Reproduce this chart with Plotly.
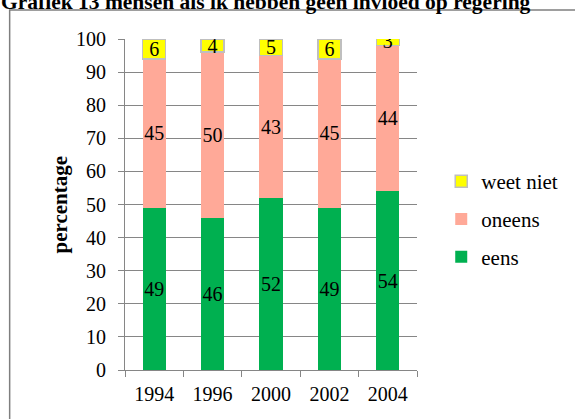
import plotly.graph_objects as go

years = ['1994', '1996', '2000', '2002', '2004']
eens = [49, 46, 52, 49, 54]
oneens = [45, 50, 43, 45, 44]
weetNiet = [6, 4, 5, 6, 3]

serif = 'Liberation Serif'
grey = '#868686'
labelFont = dict(color='black', size=20, family=serif)

fig = go.Figure()
# eens (onderste deel)
fig.add_trace(go.Bar(x=years, y=eens, name='eens', legendgroup='a', legendrank=3,
                     marker=dict(color='#00B050', line=dict(width=0)),
                     text=eens, textposition='inside', insidetextanchor='middle', textangle=0,
                     constraintext='none', textfont=labelFont))
# oneens
fig.add_trace(go.Bar(x=years, y=oneens, name='oneens', legendgroup='b', legendrank=2,
                     marker=dict(color='#FFA998', line=dict(width=0)),
                     text=oneens, textposition='inside', insidetextanchor='middle', textangle=0,
                     constraintext='none', textfont=labelFont))
# weet niet
fig.add_trace(go.Bar(x=years, y=weetNiet, name='weet niet', legendgroup='c', legendrank=1,
                     marker=dict(color='#FFFF00', line=dict(color='#BFBFBF', width=1.5)),
                     text=weetNiet, textposition='inside', insidetextanchor='middle', textangle=0,
                     constraintext='none', textfont=labelFont))

fig.update_layout(
    width=575, height=419,
    margin=dict(l=125, r=154, t=39, b=49),
    barmode='stack', bargap=0.605,
    plot_bgcolor='white', paper_bgcolor='white',
    font=dict(family=serif, size=20, color='black'),
    showlegend=True,
    legend=dict(x=1.083, xanchor='left', y=0.456, yanchor='middle',
                traceorder='grouped', tracegroupgap=7.5,
                font=dict(size=21, family=serif, color='black')),
    xaxis=dict(showline=True, linecolor=grey, linewidth=1, ticks='outside',
               tickson='boundaries', ticklen=6, tickcolor=grey, ticklabelstandoff=6,
               tickfont=dict(size=20, family=serif, color='black')),
    yaxis=dict(range=[0, 100], dtick=10, showgrid=True, gridcolor=grey, gridwidth=1,
               showline=True, linecolor=grey, linewidth=1, ticks='outside',
               ticklen=6, tickcolor=grey, ticklabelstandoff=8, zeroline=False,
               tickfont=dict(size=20, family=serif, color='black')),
)

# y-as titel
fig.add_annotation(text='<b>percentage</b>', xref='paper', yref='paper',
                   x=-0.226, xanchor='center', y=0.5, yanchor='middle',
                   textangle=-90, showarrow=False,
                   font=dict(size=21, family=serif, color='black'))
# titel (bovenkant valt weg)
fig.add_annotation(text='<b>Grafiek 13 mensen als ik hebben geen invloed op regering</b>',
                   xref='paper', yref='paper', x=-0.43, xanchor='left',
                   y=1.07, yanchor='bottom', showarrow=False,
                   font=dict(size=21.5, family=serif, color='black'))
# kader
fig.add_shape(type='rect', xref='paper', yref='paper', x0=-0.395, y0=-0.5,
              x1=2, y1=1.0876, line=dict(color='#7F7F7F', width=1.5), layer='below')

fig.write_html('out.html', config={'displayModeBar': False},
               post_script="document.body.style.margin='0';")
